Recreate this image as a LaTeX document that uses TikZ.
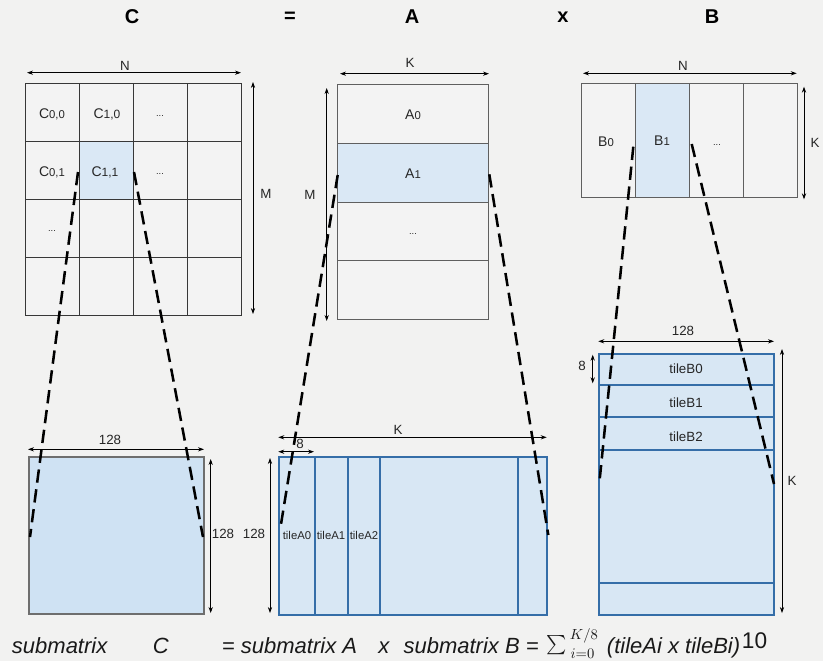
\documentclass[tikz,border=0pt]{standalone}
\usepackage{exscale}
\usepackage{fontspec}
\setmainfont{Liberation Sans}
\usetikzlibrary{arrows.meta}
\definecolor{bgc}{RGB}{242,242,241}
\definecolor{cellc}{RGB}{243,243,243}
\definecolor{hlc}{RGB}{218,232,245}
\definecolor{csubc}{RGB}{207,226,243}
\definecolor{subc}{RGB}{216,231,244}
\definecolor{bluec}{RGB}{53,110,168}
\definecolor{gridc}{RGB}{55,55,55}
\definecolor{boxc}{RGB}{110,110,110}
\begin{document}
\begin{tikzpicture}[x=0.75pt,y=-0.75pt,
  dim/.style={{Stealth[length=4.5pt,width=3.2pt]}-{Stealth[length=4.5pt,width=3.2pt]}, line width=0.6pt, black},
  gridl/.style={draw=gridc, line width=0.7pt},
  bluel/.style={draw=bluec, line width=1.4pt},
  zoomline/.style={line width=1.9pt, dash pattern=on 10pt off 5pt, black},
  lbl/.style={font=\fontsize{10}{12}\selectfont, inner sep=0pt, text=black!85},
  cell/.style={font=\fontsize{10.5}{12}\selectfont, inner sep=0pt, text=black!85},
  tile/.style={font=\fontsize{8.5}{10}\selectfont, inner sep=0pt, text=black!85},
  tileb/.style={font=\fontsize{10}{12}\selectfont, inner sep=0pt, text=black!85},
  title/.style={font=\fontsize{15}{18}\selectfont\bfseries, inner sep=0pt},
  formula/.style={font=\fontsize{16.5}{19}\selectfont\itshape, inner sep=0pt, anchor=base west, text=black!90},
  mathlbl/.style={inner sep=0pt, text=black!90}]
\fill[bgc] (0,0) rectangle (823,661);
\useasboundingbox (0,0) rectangle (823,661);

% titles
\node[title] (tC) at (132,17) {C};
\node[title] (tEq) at (290,17) {=};
\node[title] (tA) at (412,17) {A};
\node[title] (tX) at (563,17) {x};
\node[title] (tB) at (712,17) {B};

% ---------- matrix C ----------
\fill[cellc] (25,83) rectangle (241,315);
\fill[hlc] (79.3,141.7) rectangle (133.3,199.3);
\draw[gridl] (25,83) rectangle (241,315);
\foreach \xx in {79.3,133.3,187.3} \draw[gridl] (\xx,83) -- (\xx,315);
\foreach \yy in {141.7,199.3,257.3} \draw[gridl] (25,\yy) -- (241,\yy);
\node[cell] (c00) at (52,114) {C{\fontsize{8.5}{9}\selectfont 0,0}};
\node[cell] (c10) at (107,114) {C{\fontsize{9}{9}\selectfont 1,0}};
\node[cell] (cd1) at (160,116) {\fontsize{7}{8}\selectfont ...};
\node[cell] (c01) at (52,172) {C{\fontsize{8.5}{9}\selectfont 0,1}};
\node[cell] (c11) at (105,172) {C{\fontsize{9}{9}\selectfont 1,1}};
\node[cell] (cd2) at (160,174) {\fontsize{7}{8}\selectfont ...};
\node[cell] (cd3) at (52,231) {\fontsize{7}{8}\selectfont ...};
\coordinate (cNl) at (27,72.7); \coordinate (cNr) at (241,72.7);
\draw[dim] (cNl) -- (cNr);
\node[lbl] (cN) at (125,66) {N};
\coordinate (cMt) at (253,82); \coordinate (cMb) at (253,314);
\draw[dim] (cMt) -- (cMb);
\node[lbl] (cM) at (266,194) {M};

% ---------- matrix A ----------
\fill[cellc] (337.7,84.3) rectangle (488.7,319.3);
\fill[hlc] (337.7,143.3) rectangle (488.7,202.3);
\draw[gridl, draw=gridc!80] (337.7,84.3) rectangle (488.7,319.3);
\foreach \yy in {143.3,202.3,260.7} \draw[gridl, draw=gridc!80] (337.7,\yy) -- (488.7,\yy);
\node[cell] (a0) at (413,115) {A{\fontsize{8.5}{9}\selectfont 0}};
\node[cell] (a1) at (413,174) {A{\fontsize{8.5}{9}\selectfont 1}};
\node[cell] (ad) at (413,234) {\fontsize{7}{8}\selectfont ...};
\coordinate (aKl) at (340,73.7); \coordinate (aKr) at (489,73.7);
\draw[dim] (aKl) -- (aKr);
\node[lbl] (aK) at (410,63) {K};
\coordinate (aMt) at (326.7,88); \coordinate (aMb) at (326.7,321);
\draw[dim] (aMt) -- (aMb);
\node[lbl] (aM) at (310,195) {M};

% ---------- matrix B ----------
\fill[cellc] (581.3,83.7) rectangle (797.3,197.3);
\fill[hlc] (635.3,83.7) rectangle (689.3,197.3);
\draw[gridl, draw=gridc!80] (581.3,83.7) rectangle (797.3,197.3);
\foreach \xx in {635.3,689.3,743.3} \draw[gridl, draw=gridc!80] (\xx,83.7) -- (\xx,197.3);
\node[cell] (b0) at (606,142) {B{\fontsize{8.5}{9}\selectfont 0}};
\node[cell] (b1) at (662,141) {B{\fontsize{8.5}{9}\selectfont 1}};
\node[cell] (bd) at (717,145) {\fontsize{7}{8}\selectfont ...};
\coordinate (bNl) at (583,73.3); \coordinate (bNr) at (796.7,73.3);
\draw[dim] (bNl) -- (bNr);
\node[lbl] (bN) at (683,66) {N};
\coordinate (bKt) at (804,86.7); \coordinate (bKb) at (804,199.3);
\draw[dim] (bKt) -- (bKb);
\node[lbl] (bK) at (815,143) {K};

% ---------- sub C ----------
\fill[csubc] (29.3,457.3) rectangle (203.7,614.3);
\draw[draw=boxc, line width=1.5pt] (29.3,457.3) rectangle (203.7,614.3);
\coordinate (sc1) at (28,449.3); \coordinate (sc2) at (204,449.3);
\draw[dim] (sc1) -- (sc2);
\node[lbl] (sc128a) at (110,440) {128};
\coordinate (sc3) at (210.7,459); \coordinate (sc4) at (210.7,613);
\draw[dim] (sc3) -- (sc4);
\node[lbl] (sc128b) at (223,534) {128};

% ---------- sub A ----------
\fill[subc] (279,456.7) rectangle (547.3,615);
\foreach \xx in {314.7,348,380,517.7} \draw[bluel] (\xx,456.7) -- (\xx,615);
\draw[bluel] (279,456.7) rectangle (547.3,615);
\node[tile] (ta0) at (297,535) {tileA0};
\node[tile] (ta1) at (331,535) {tileA1};
\node[tile] (ta2) at (364,535) {tileA2};
\coordinate (sa1) at (270,458); \coordinate (sa2) at (270,613);
\draw[dim] (sa1) -- (sa2);
\node[lbl] (sa128) at (254,534) {128};
\coordinate (sa3) at (278.3,437.3); \coordinate (sa4) at (546.7,437.3);
\draw[dim] (sa3) -- (sa4);
\node[lbl] (saK) at (398,430) {K};
\coordinate (sa5) at (278.3,451.7); \coordinate (sa6) at (314,451.7);
\draw[dim] (sa5) -- (sa6);
\node[lbl] (sa8) at (300,444) {8};

% ---------- sub B ----------
\fill[subc] (599.3,354) rectangle (774,615);
\foreach \yy in {384.7,416.7,450,583.3} \draw[bluel] (599.3,\yy) -- (774,\yy);
\draw[bluel] (599.3,354) rectangle (774,615);
\node[tileb] (tb0) at (686,369) {tileB0};
\node[tileb] (tb1) at (686,403) {tileB1};
\node[tileb] (tb2) at (686,437) {tileB2};
\coordinate (sb1) at (598.3,341.3); \coordinate (sb2) at (774,341.3);
\draw[dim] (sb1) -- (sb2);
\node[lbl] (sb128) at (683,331) {128};
\coordinate (sb3) at (782,349); \coordinate (sb4) at (782,613);
\draw[dim] (sb3) -- (sb4);
\node[lbl] (sbK) at (792,481) {K};
\coordinate (sb5) at (592.7,354.7); \coordinate (sb6) at (592.7,383.3);
\draw[dim] (sb5) -- (sb6);
\node[lbl] (sb8) at (582,366) {8};

% ---------- zoom lines ----------
\coordinate (zc1) at (78,172); \coordinate (zc2) at (30,537);
\coordinate (zc3) at (134,172); \coordinate (zc4) at (203,537);
\draw[zoomline] (zc1) -- (zc2);
\draw[zoomline] (zc3) -- (zc4);
\coordinate (za1) at (337.7,175); \coordinate (za2) at (280.7,526);
\coordinate (za3) at (489.3,174.3); \coordinate (za4) at (548.3,535);
\draw[zoomline] (za1) -- (za2);
\draw[zoomline] (za3) -- (za4);
\coordinate (zb1) at (633.3,146.7); \coordinate (zb2) at (599.3,483.3);
\coordinate (zb3) at (691.7,144); \coordinate (zb4) at (774,484);
\draw[zoomline] (zb1) -- (zb2);
\draw[zoomline] (zb3) -- (zb4);

% ---------- formula ----------
\node[formula] (f1) at (11.7,653.3) {submatrix};
\node[formula] (f2) at (152.7,653.3) {C};
\node[formula] (f3) at (221.7,653.3) {= submatrix A};
\node[formula] (f4) at (378,653.3) {x};
\node[formula] (f5) at (403.3,653.3) {submatrix B =};
\node[mathlbl, font=\fontsize{15}{18}\selectfont] (fsum) at (557,645.5) {$\textstyle\sum$};
\node[mathlbl, font=\fontsize{11}{13}\selectfont] (fsup) at (584,636) {$K/8$};
\node[mathlbl, font=\fontsize{11}{13}\selectfont] (fsub) at (582.5,654) {$i{=}0$};
\node[formula] (f7) at (606.7,653.3) {(tileAi x tileBi)};
\node[formula, font=\fontsize{17}{20}\selectfont\upshape] (f8) at (741.7,648.3) {10};
\end{tikzpicture}
\end{document}
